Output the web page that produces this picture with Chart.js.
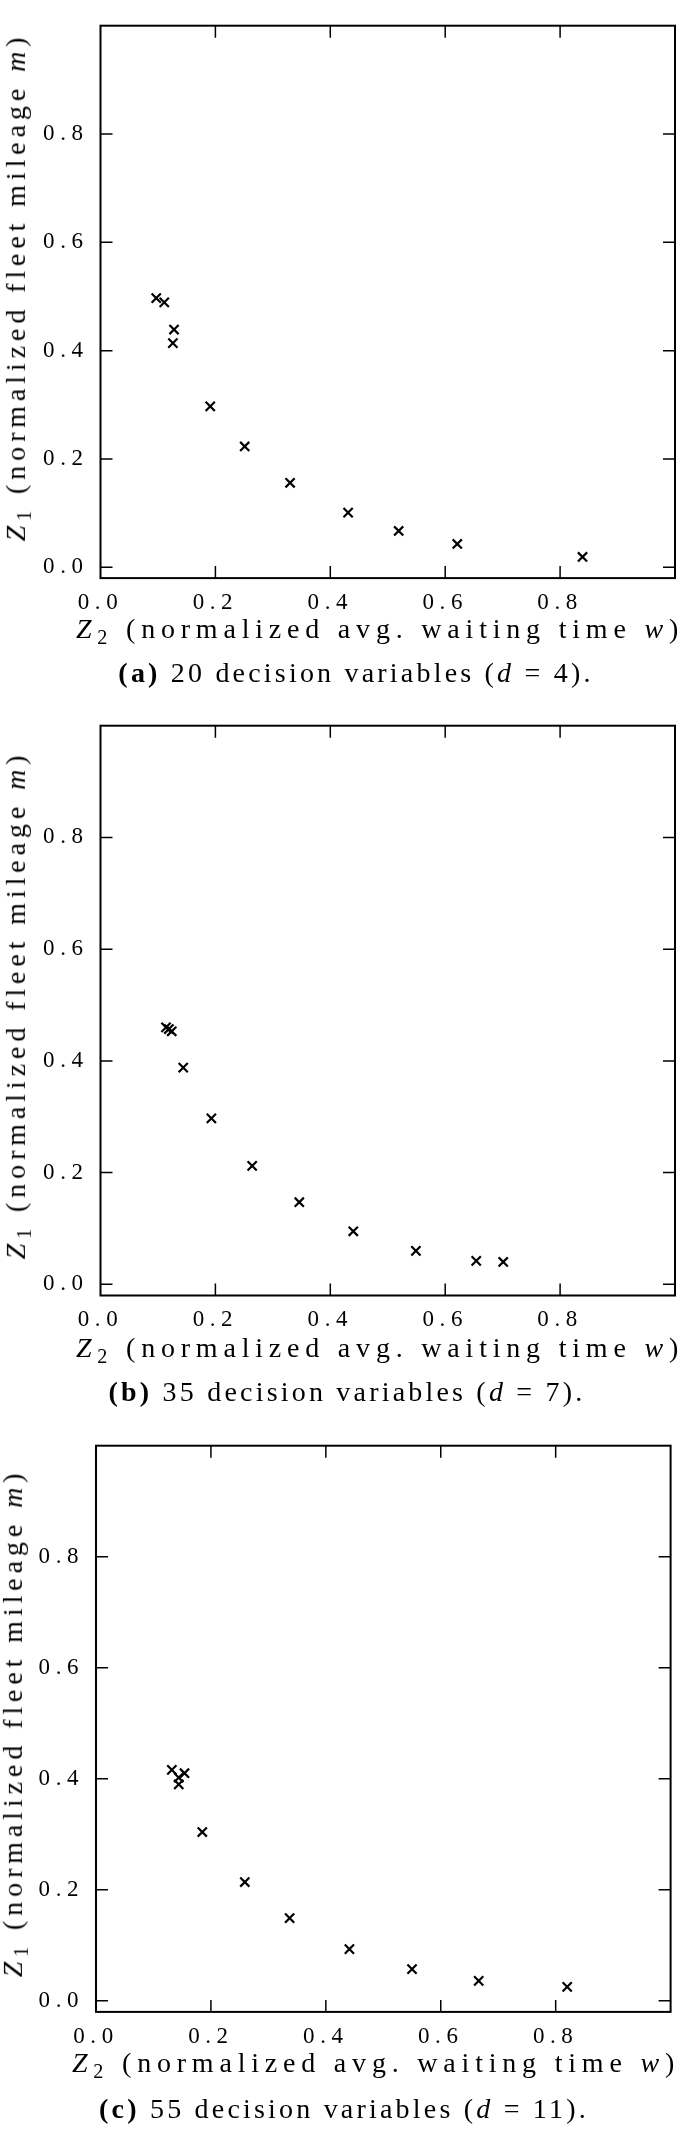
<!DOCTYPE html>
<html>
<head>
<meta charset="utf-8">
<script src="https://cdn.jsdelivr.net/npm/chart.js@4.4.0/dist/chart.umd.min.js"></script>
<style>
  body { margin: 0; background: #fff; }
  #page { position: relative; width: 685px; height: 2130px; overflow: hidden; font-family: "Liberation Serif", serif; color: #000; }
  canvas { position: absolute; left: 0; }
  .xtitle, .ytitle, .caption { position: absolute; white-space: nowrap; line-height: 1; }
  .xtitle { font-size: 28px; letter-spacing: 5.8px; transform: translate(-50%, -50%); }
  .ytitle { font-size: 28px; letter-spacing: 4.9px; transform: translate(-50%, -50%) rotate(-90deg); }
  .caption { font-size: 28px; letter-spacing: 3.2px; transform: translate(-50%, -50%); }
  sub { font-size: 0.72em; vertical-align: -0.3em; }
</style>
</head>
<body>
<div id="page">
  <canvas id="chartA" width="685" height="640" style="top:0px"></canvas>
  <div class="ytitle" style="left:18px; top:287px"><i>Z</i><sub>1</sub> (normalized fleet mileage <i>m</i>)</div>
  <div class="xtitle" style="left:380px; top:631px"><i>Z</i><sub>2</sub> (normalized avg. waiting time <i>w</i>)</div>
  <div class="caption" style="left:356px; top:673px"><b>(a)</b> 20 decision variables (<i>d</i> = 4).</div>

  <canvas id="chartB" width="685" height="640" style="top:700px"></canvas>
  <div class="ytitle" style="left:18px; top:1005px"><i>Z</i><sub>1</sub> (normalized fleet mileage <i>m</i>)</div>
  <div class="xtitle" style="left:380px; top:1350px"><i>Z</i><sub>2</sub> (normalized avg. waiting time <i>w</i>)</div>
  <div class="caption" style="left:347px; top:1392px"><b>(b)</b> 35 decision variables (<i>d</i> = 7).</div>

  <canvas id="chartC" width="685" height="640" style="top:1420px"></canvas>
  <div class="ytitle" style="left:15px; top:1723px"><i>Z</i><sub>1</sub> (normalized fleet mileage <i>m</i>)</div>
  <div class="xtitle" style="left:376px; top:2065px"><i>Z</i><sub>2</sub> (normalized avg. waiting time <i>w</i>)</div>
  <div class="caption" style="left:344px; top:2109px"><b>(c)</b> 55 decision variables (<i>d</i> = 11).</div>
</div>
<script>
// tick values shared by all three panels
const xTicks = [0, 0.2, 0.4, 0.6, 0.8];
const yTicks = [0, 0.2, 0.4, 0.6, 0.8];

// (a) d = 4
const z2A = [0.097, 0.111, 0.128, 0.126, 0.191, 0.251, 0.330, 0.431, 0.519, 0.621, 0.839];
const z1A = [0.497, 0.489, 0.439, 0.414, 0.297, 0.223, 0.156, 0.101, 0.067, 0.043, 0.019];

// (b) d = 7
const z2B = [0.114, 0.119, 0.124, 0.144, 0.193, 0.264, 0.346, 0.440, 0.549, 0.654, 0.701];
const z1B = [0.460, 0.457, 0.453, 0.388, 0.297, 0.212, 0.147, 0.095, 0.060, 0.042, 0.040];

// (c) d = 11
const z2C = [0.132, 0.154, 0.144, 0.144, 0.185, 0.259, 0.337, 0.441, 0.550, 0.666, 0.820];
const z1C = [0.416, 0.410, 0.402, 0.390, 0.304, 0.214, 0.149, 0.093, 0.057, 0.036, 0.025];

// frame + inward tick marks on all four sides
const framePlugin = {
  id: "frame",
  beforeDraw(chart) {
    chart.ctx.letterSpacing = "5.6px";
  },
  afterDraw(chart) {
    const { ctx, chartArea: a, scales } = chart;
    const x = scales.x, y = scales.y;
    ctx.save();
    ctx.letterSpacing = "0px";
    ctx.strokeStyle = "#000";
    ctx.lineWidth = 1.5;
    ctx.beginPath();
    xTicks.forEach(v => {
      const px = x.getPixelForValue(v);
      if (px <= a.left + 1) return;
      ctx.moveTo(px, a.bottom); ctx.lineTo(px, a.bottom - 12);
      ctx.moveTo(px, a.top); ctx.lineTo(px, a.top + 12);
    });
    yTicks.forEach(v => {
      const py = y.getPixelForValue(v);
      ctx.moveTo(a.left, py); ctx.lineTo(a.left + 12, py);
      ctx.moveTo(a.right, py); ctx.lineTo(a.right - 12, py);
    });
    ctx.stroke();
    ctx.lineWidth = 2;
    ctx.strokeRect(a.left, a.top, a.right - a.left, a.bottom - a.top);
    ctx.restore();
  }
};

function makePanel(canvasId, xs, ys, area) {
  const canvas = document.getElementById(canvasId);
  const h = canvas.height;
  const tickFont = { family: "Liberation Serif", size: 23 };

  new Chart(canvas, {
    type: "scatter",
    data: {
      datasets: [{
        data: xs.map((v, i) => ({ x: v, y: ys[i] })),
        pointStyle: "crossRot",
        pointRadius: 6.5,
        pointBorderWidth: 2.2,
        pointBorderColor: "#000",
        pointBackgroundColor: "#000"
      }]
    },
    options: {
      responsive: false,
      animation: false,
      events: [],
      layout: {
        autoPadding: false,
        padding: { left: 0, top: area.t, right: 685 - area.r, bottom: 0 }
      },
      plugins: { legend: { display: false }, tooltip: { enabled: false } },
      scales: {
        x: {
          type: "linear", min: 0, max: 1,
          grid: { display: false, drawTicks: false },
          border: { display: false },
          afterFit: s => { s.height = h - area.b; },
          afterBuildTicks: s => { s.ticks = xTicks.map(v => ({ value: v })); },
          ticks: {
            padding: 10.8, color: "#000", font: tickFont,
            maxRotation: 0, autoSkip: false,
            callback: v => v.toFixed(1)
          }
        },
        y: {
          type: "linear", min: -0.02, max: 1,
          grid: { display: false, drawTicks: false },
          border: { display: false },
          afterFit: s => { s.width = area.l; },
          afterBuildTicks: s => { s.ticks = yTicks.map(v => ({ value: v })); },
          ticks: {
            padding: 11.9, color: "#000", font: tickFont,
            autoSkip: false,
            callback: v => v.toFixed(1)
          }
        }
      }
    },
    plugins: [framePlugin]
  });
}

makePanel("chartA", z2A, z1A, { l: 100.5, t: 3.6, r: 675, b: 578.1 });
makePanel("chartB", z2B, z1B, { l: 100.5, t: 20.7, r: 675, b: 595.5 });
makePanel("chartC", z2C, z1C, { l: 96, t: 18.1, r: 670.6, b: 591.9 });
</script>
</body>
</html>
